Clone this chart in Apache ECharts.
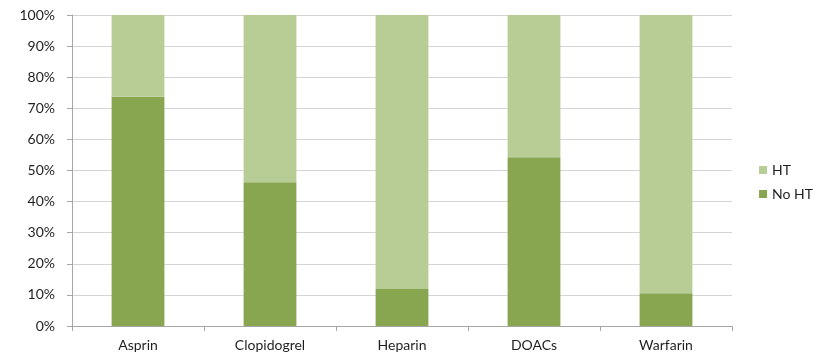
<!DOCTYPE html>
<html>
<head>
<meta charset="utf-8">
<script src="https://cdn.jsdelivr.net/npm/echarts@6/dist/echarts.min.js"></script>
<style>
  html, body { margin: 0; padding: 0; background: #fff; }
  #chart { width: 824px; height: 358px; }
</style>
</head>
<body>
<div id="chart"></div>
<script>
// Share of patients with / without haemorrhagic transformation by drug
const categories = ['Asprin', 'Clopidogrel', 'Heparin', 'DOACs', 'Warfarin'];
const noHT = [73.7, 46.2, 11.9, 54.3, 10.5];
const ht = [26.3, 53.8, 88.1, 45.7, 89.5];

const textColor = '#1f1f1f';
const fontFamily = 'Lato, "Open Sans", sans-serif';

const chart = echarts.init(document.getElementById('chart'));
chart.setOption({
  animation: false,
  grid: { left: 72, right: 92, top: 15, bottom: 32, containLabel: false },
  legend: {
    orient: 'vertical',
    right: 6,
    top: 158,
    itemWidth: 8,
    itemHeight: 8,
    itemGap: 10,
    icon: 'rect',
    textStyle: { color: textColor, fontSize: 14, fontFamily: fontFamily },
    data: ['HT', 'No HT']
  },
  xAxis: {
    type: 'category',
    data: categories,
    axisLine: { lineStyle: { color: '#a6a6a6', width: 1 } },
    axisTick: { show: true, length: 5, lineStyle: { color: '#a6a6a6' } },
    axisLabel: { color: textColor, fontSize: 14, fontFamily: fontFamily, margin: 12 }
  },
  yAxis: {
    type: 'value',
    min: 0,
    max: 100,
    interval: 10,
    axisLine: { show: true, lineStyle: { color: '#a6a6a6', width: 1 } },
    axisTick: { show: true, length: 5, lineStyle: { color: '#a6a6a6' } },
    axisLabel: { color: textColor, fontSize: 14, fontFamily: fontFamily, margin: 17, formatter: '{value}%' },
    splitLine: { lineStyle: { color: '#d4d4d4', width: 1 } }
  },
  series: [
    {
      name: 'No HT',
      type: 'bar',
      stack: 'total',
      barWidth: '40%',
      data: noHT,
      itemStyle: { color: '#88a54f' }
    },
    {
      name: 'HT',
      type: 'bar',
      stack: 'total',
      barWidth: '40%',
      data: ht,
      itemStyle: { color: '#b8cd96' }
    }
  ]
});
</script>
</body>
</html>
